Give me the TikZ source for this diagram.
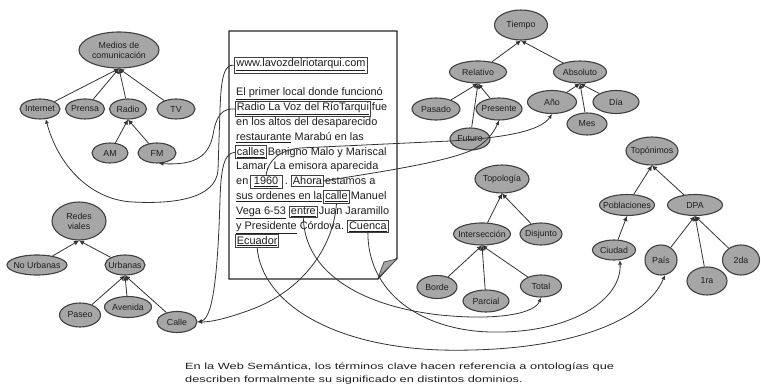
\documentclass[tikz,border=0pt]{standalone}
\usepackage{fontspec}
\setmainfont{Liberation Sans}
\usetikzlibrary{shapes.geometric,arrows.meta}
\definecolor{ink}{HTML}{1E1E1E}
\definecolor{ontofill}{HTML}{A6A6A6}
\definecolor{ontoline}{HTML}{404040}
\definecolor{wire}{HTML}{333333}
\tikzset{
  onto/.style={ellipse, draw=ontoline, line width=1.1pt, fill=ontofill,
    inner xsep=-5pt, inner ysep=0pt, text=ink, align=center,
    font=\fontsize{8.8}{10}\selectfont},
  isa/.style={draw=wire, line width=0.8pt, -{Latex[length=5pt,width=5pt]}},
  link/.style={draw=wire, line width=0.8pt, -{Latex[length=4.5pt,width=4pt]}},
  txt/.style={anchor=base west, inner sep=0pt, text=ink,
    font=\fontsize{10.9}{13}\selectfont},
  kw/.style={txt, draw=black!75, line width=0.9pt, inner sep=1.4pt},
  captxt/.style={anchor=base west, inner sep=0pt, text=ink,
    font=\fontsize{9}{11}\selectfont}
}

\begin{document}
\begin{tikzpicture}[x=1pt,y=-1pt]
  \useasboundingbox (0,0) rectangle (761,385);

  \node[onto, minimum width=80, minimum height=36] (medios) at (119,50) {Medios de\\comunicación};
  \node[onto, minimum width=40, minimum height=20] (internet) at (40,109) {Internet};
  \node[onto, minimum width=39, minimum height=20] (prensa) at (85,109) {Prensa};
  \node[onto, minimum width=37, minimum height=20] (radio) at (128,109) {Radio};
  \node[onto, minimum width=38, minimum height=20] (tv) at (176,109) {TV};
  \node[onto, minimum width=36, minimum height=20] (am) at (110,153) {AM};
  \node[onto, minimum width=38, minimum height=20] (fm) at (157,153) {FM};

  \node[onto, minimum width=54, minimum height=38] (redes) at (79,221) {Redes\\viales};
  \node[onto, minimum width=60, minimum height=20] (nourb) at (37,265) {No Urbanas};
  \node[onto, minimum width=40, minimum height=20] (urb) at (125,265) {Urbanas};
  \node[onto, minimum width=41, minimum height=24] (paseo) at (80,315) {Paseo};
  \node[onto, minimum width=47, minimum height=21] (avenida) at (128,307) {Avenida};
  \node[onto, minimum width=40, minimum height=21] (calle) at (177,322) {Calle};

  \node[onto, minimum width=53, minimum height=30] (tiempo) at (521,25) {Tiempo};
  \node[onto, minimum width=57, minimum height=22] (relativo) at (478,72) {Relativo};
  \node[onto, minimum width=53, minimum height=22] (absoluto) at (580,72) {Absoluto};
  \node[onto, minimum width=48, minimum height=22] (pasado) at (436,109) {Pasado};
  \node[onto, minimum width=46, minimum height=22] (presente) at (499,109) {Presente};
  \node[onto, minimum width=40, minimum height=22] (futuro) at (470,139) {Futuro};
  \node[onto, minimum width=49, minimum height=23] (ano) at (552,102) {Año};
  \node[onto, minimum width=40, minimum height=22] (mes) at (587,124) {Mes};
  \node[onto, minimum width=46, minimum height=23] (dia) at (616,102) {Día};

  \node[onto, minimum width=54, minimum height=28] (topologia) at (502,179) {Topología};
  \node[onto, minimum width=57, minimum height=22] (interseccion) at (482,234) {Intersección};
  \node[onto, minimum width=42, minimum height=22] (disjunto) at (541,234) {Disjunto};
  \node[onto, minimum width=40, minimum height=23] (borde) at (437,287) {Borde};
  \node[onto, minimum width=46, minimum height=22] (parcial) at (486,301) {Parcial};
  \node[onto, minimum width=41, minimum height=22] (total) at (541,286) {Total};

  \node[onto, minimum width=52, minimum height=28] (toponimos) at (652,151) {Topónimos};
  \node[onto, minimum width=55, minimum height=21] (poblaciones) at (627,205) {Poblaciones};
  \node[onto, minimum width=55, minimum height=21] (dpa) at (695,205) {DPA};
  \node[onto, minimum width=43, minimum height=20] (ciudad) at (614,250) {Ciudad};
  \node[onto, minimum width=32, minimum height=30] (pais) at (661,260) {País};
  \node[onto, minimum width=40, minimum height=28] (primera) at (707,281) {1ra};
  \node[onto, minimum width=37, minimum height=30] (segunda) at (741,260) {2da};

  \draw[isa] (internet) -- (medios.south); \draw[isa] (prensa) -- (medios.south);
  \draw[isa] (radio) -- (medios.south); \draw[isa] (tv) -- (medios.south);
  \draw[isa] (am) -- (radio.south); \draw[isa] (fm) -- (radio.south);
  \draw[isa] (nourb) -- (redes.south); \draw[isa] (urb) -- (redes.south);
  \draw[isa] (paseo) -- (urb.south); \draw[isa] (avenida) -- (urb.south);
  \draw[isa] (calle) -- (urb.south);
  \draw[isa] (relativo) -- (tiempo.south); \draw[isa] (absoluto) -- (tiempo.south);
  \draw[isa] (pasado) -- (relativo.south); \draw[isa] (presente) -- (relativo.south);
  \draw[isa] (futuro) -- (relativo.south);
  \draw[isa] (ano) -- (absoluto.south); \draw[isa] (mes) -- (absoluto.south);
  \draw[isa] (dia) -- (absoluto.south);
  \draw[isa] (interseccion) -- (topologia.south); \draw[isa] (disjunto) -- (topologia.south);
  \draw[isa] (borde) -- (interseccion.south); \draw[isa] (parcial) -- (interseccion.south);
  \draw[isa] (total) -- (interseccion.south);
  \draw[isa] (poblaciones) -- (toponimos.south); \draw[isa] (dpa) -- (toponimos.south);
  \draw[isa] (ciudad) -- (poblaciones.south);
  \draw[isa] (pais) -- (dpa.south); \draw[isa] (primera) -- (dpa.south);
  \draw[isa] (segunda) -- (dpa.south);

  \draw[line width=1.2pt, draw=black!85, fill=white] (229,31) -- (397,31) -- (397,258)
    -- (378,279) -- (229,279) -- cycle;
  \filldraw[fill=black!35, draw=black!70, line width=0.8pt] (397,259) -- (384,262)
    -- (378,278) -- cycle;

  \node[kw, inner sep=2pt] (www) at (234,67) {\underline{www.lavozdelriotarqui.com}};
  \node[txt] (l1) at (236,96) {\underline{El primer local donde funcionó}};
  \node[kw] (radiolv) at (235,110.8) {\underline{Radio La Voz del RíoTarqui}};
  \node[txt] (l2b) at ([xshift=1pt]radiolv.base east) {fue};
  \node[txt] (l3) at (236,125.6) {en los altos del desaparecido};
  \node[txt] (l4a) at (236,140.4) {\underline{restaurante}};
  \node[txt] (l4b) at ([xshift=3pt]l4a.base east) {Marabú en las};
  \node[kw] (calles) at (235,155.2) {\underline{calles}};
  \node[txt] (l5b) at ([xshift=1pt]calles.base east) {Benigno Malo y Mariscal};
  \node[txt] (l6) at (236,170) {Lamar. La emisora aparecida};
  \node[txt] (l7a) at (236,184.8) {en};
  \node[kw, inner xsep=4pt] (anio) at ([xshift=1pt]l7a.base east) {\underline{1960}};
  \node[txt] (l7b) at ([xshift=2pt]anio.base east) {.};
  \node[kw] (ahora) at ([xshift=3pt]l7b.base east) {Ahora};
  \node[txt] (l7c) at ([xshift=1pt]ahora.base east) {estamos a};
  \node[txt] (l8a) at (236,199.6) {\underline{sus ordenes en la}};
  \node[kw] (calleword) at ([xshift=1pt]l8a.base east) {\underline{calle}};
  \node[txt] (l8b) at ([xshift=1pt]calleword.base east) {Manuel};
  \node[txt] (l9a) at (236,214.4) {\underline{Vega 6-53}};
  \node[kw] (entre) at ([xshift=3pt]l9a.base east) {\underline{entre}};
  \node[txt] (l9b) at ([xshift=1pt]entre.base east) {Juan Jaramillo};
  \node[txt] (l10a) at (236,229.2) {\underline{y Presidente} Córdova.};
  \node[kw] (cuenca) at ([xshift=3pt]l10a.base east) {\underline{Cuenca}};
  \node[kw] (ecuador) at (235,244) {\underline{Ecuador}};

  \draw[link] (www.west) .. controls (224,64) and (221,78) .. (220,110) -- (218,170)
    .. controls (216,200) and (170,204) .. (133,202) .. controls (90,200) and (58,165) .. (internet.-60);
  \draw[link] (radiolv.west) .. controls (222,108) and (216,116) .. (213,135)
    .. controls (208,160) and (190,165) .. (fm.-80);
  \draw[link] (calles.west) .. controls (224,153) and (221,168) .. (220,200)
    .. controls (218,265) and (214,318) .. (calle.east);
  \draw[link] (calleword.south) .. controls (333,250) and (300,292) .. (250,310)
    .. controls (228,318) and (212,322) .. (calle.east);
  \draw[link] (anio.north) .. controls (268,160) and (280,150) .. (300,148) -- (450,141)
    .. controls (500,138) and (540,132) .. (ano.south);
  \draw[link] (ahora.east) .. controls (380,172) and (440,163) .. (470,151)
    .. controls (486,144) and (494,132) .. (presente.south);
  \draw[link] (entre.south) .. controls (305,272) and (360,306) .. (440,315)
    .. controls (500,321) and (535,313) .. (total.south);
  \draw[link] (cuenca.south) .. controls (368,292) and (420,330) .. (490,332)
    .. controls (570,334) and (622,300) .. (ciudad.-60);
  \draw[link] (ecuador.south) .. controls (262,302) and (330,346) .. (440,350)
    .. controls (565,353) and (645,322) .. (pais.-75);

  \node[captxt] (cap1) at (185,369.5) {\scalebox{1.42}[1]{En la Web Semántica, los términos clave hacen referencia a ontologías que}};
  \node[captxt] (cap2) at (185,382) {\scalebox{1.42}[1]{describen formalmente su significado en distintos dominios.}};
\end{tikzpicture}
\end{document}
